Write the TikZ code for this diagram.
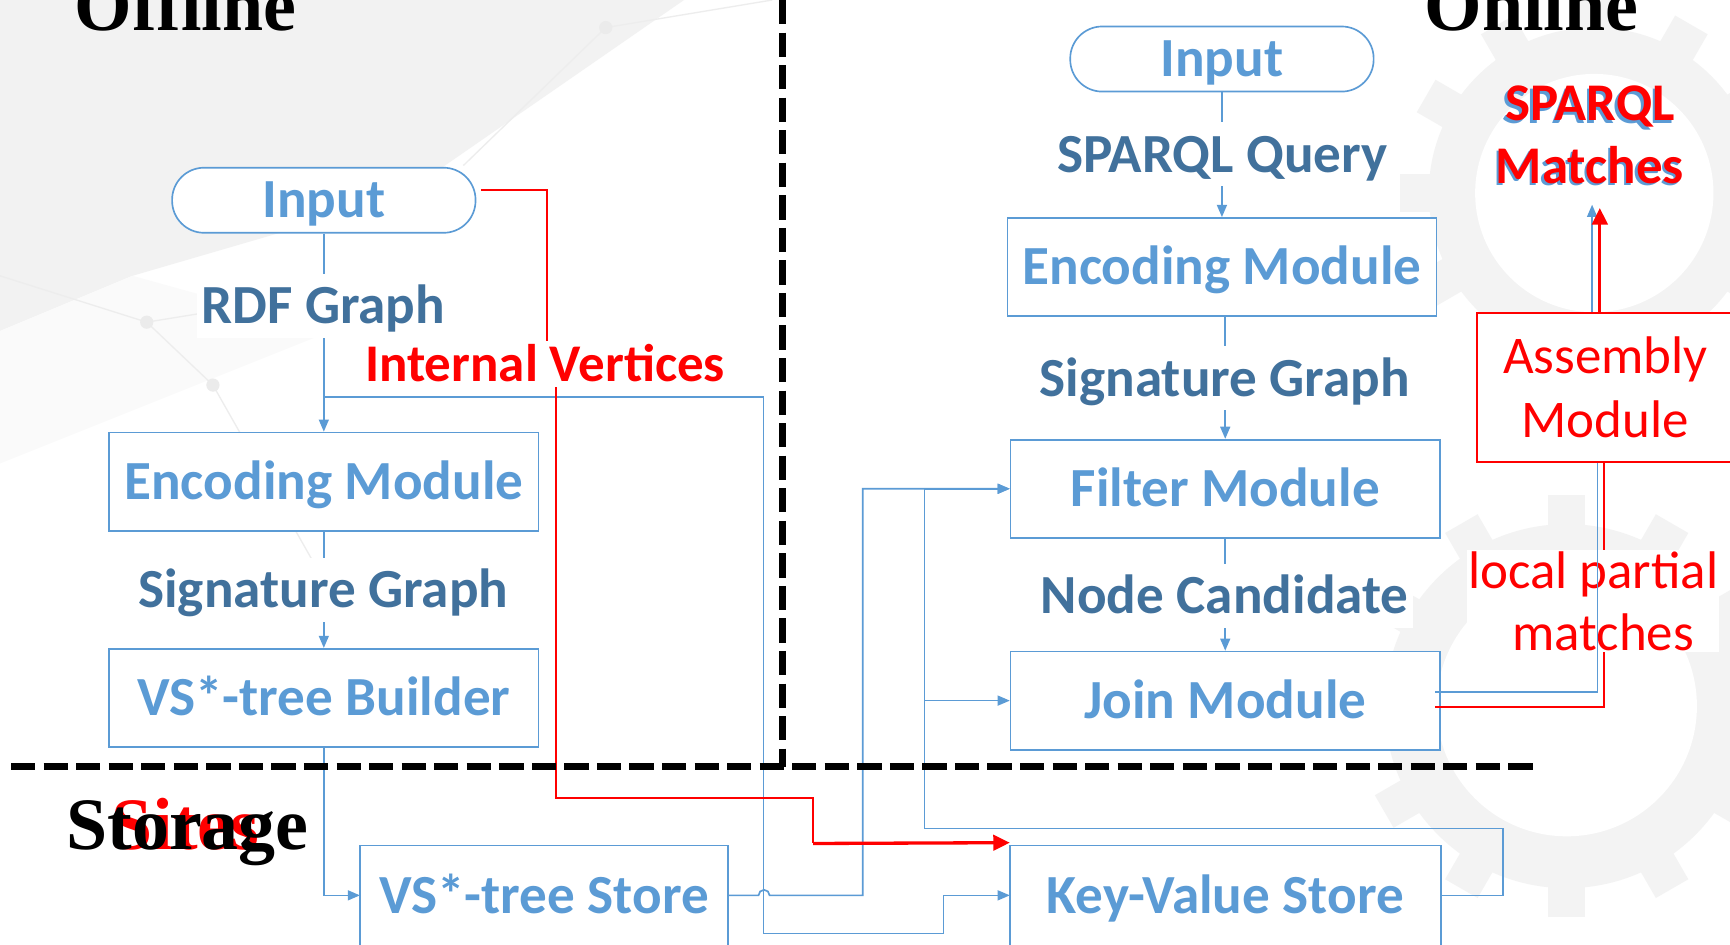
\documentclass[tikz,border=0pt]{standalone}
\usepackage{fontspec}
\newfontfamily\bodyfont{Carlito}
\newfontfamily\headfont{Liberation Serif}
\usetikzlibrary{arrows.meta,calc}

\definecolor{boxblue}{HTML}{5B9BD5}
\definecolor{labelblue}{HTML}{41719C}
\definecolor{hotred}{HTML}{FF0000}
\definecolor{wash}{HTML}{F2F2F2}
\definecolor{gearshade}{HTML}{F3F3F3}

\tikzset{
  module/.style={draw=boxblue, line width=1.5pt, fill=white,
    minimum width=389pt, minimum height=89pt, inner sep=0pt,
    text height=37pt, text depth=5pt,
    text=boxblue, font=\bodyfont\bfseries\fontsize{50}{60}\selectfont},
  terminal/.style={module, rounded corners=29pt,
    minimum width=275pt, minimum height=59pt},
  flowlabel/.style={fill=white, text=labelblue, inner xsep=4pt, inner ysep=8pt,
    text height=37pt, text depth=5pt,
    font=\bodyfont\bfseries\fontsize{50}{60}\selectfont},
  redlabel/.style={fill=white, text=hotred, inner sep=1pt, align=center,
    font=\bodyfont\fontsize{48}{57}\selectfont},
  pipe/.style={draw=boxblue, line width=1.5pt},
  link/.style={pipe, -{Triangle[length=11pt,width=9pt]}},
  redpipe/.style={draw=hotred, line width=1.5pt},
  redlink/.style={draw=hotred, line width=3pt, -{Triangle[length=15pt,width=14pt]}},
  divider/.style={draw=black, line width=6.5pt, dash pattern=on 22pt off 7.5pt},
  heading/.style={font=\headfont\bfseries\fontsize{67}{80}\selectfont,
    anchor=base, inner sep=0pt},
  netline/.style={draw=black!7, line width=1.2pt},
  netdot/.style={fill=black!8},
}

% faint toothed wheel: centre, outer ring radius, hole radius, teeth
\newcommand{\cogwheel}[4]{%
  \begin{scope}[shift={#1}]
    \fill[gearshade] (0,0) circle[radius=#2];
    \foreach \k in {1,...,#4}{
      \fill[gearshade, rotate=\k*360/#4] (-17,-#2-26) rectangle (17,-#2+4);
    }
    \fill[white] (0,0) circle[radius=#3];
  \end{scope}}

\begin{document}
\begin{tikzpicture}[x=1pt, y=-1pt]
\useasboundingbox (0,0) rectangle (1568,856);
\clip (0,0) rectangle (1568,856);
\fill[white] (0,0) rectangle (1568,856);

% ---- background texture ----
\fill[wash] (0,0) -- (620,0) -- (360,180) -- (120,250) -- (0,300) -- cycle;
\fill[black!2] (0,300) -- (120,250) -- (300,300) -- (0,420) -- cycle;
\draw[netline] (133,292) -- (193,349) -- (290,520);
\draw[netline] (0,250) -- (133,292) -- (330,260);
\draw[netline] (549,25) -- (700,0);
\draw[netline] (549,25) -- (420,150);
\fill[netdot] (133,292) circle[radius=6] (193,349) circle[radius=6] (549,25) circle[radius=6];
\cogwheel{(1445,175)}{150}{108}{12}
\cogwheel{(1420,640)}{165}{118}{12}

% ---- offline pipeline ----
\node[terminal] (in1) at (293.5,181.5) {Input};
\node[module] (enc1) at (293.5,436.5) {Encoding Module};
\node[module] (bld)  at (293.5,632.5) {VS*-tree Builder};

% ---- storage (boxes run past the lower edge) ----
\node[module, minimum width=332pt, draw=none] (vss) at (493,811.5) {VS*-tree Store};
\node[module, draw=none] (kv) at (1110.5,811.5) {Key-Value Store};
\fill[white] (vss.north west) rectangle ($(vss.south east)+(0,20)$);
\fill[white] (kv.north west) rectangle ($(kv.south east)+(0,20)$);
\node[module, minimum width=332pt, draw=none, fill=none] at (vss) {VS*-tree Store};
\node[module, draw=none, fill=none] at (kv) {Key-Value Store};
\draw[pipe] ($(vss.south west)+(0,20)$) -- (vss.north west) -- (vss.north east) -- ($(vss.south east)+(0,20)$);
\draw[pipe] ($(kv.south west)+(0,20)$) -- (kv.north west) -- (kv.north east) -- ($(kv.south east)+(0,20)$);

% ---- online pipeline ----
\node[terminal] (in2) at (1107.5,53.5) {Input};
\node[module] (enc2) at (1107.5,242) {Encoding Module};
\node[module] (flt)  at (1110.5,443) {Filter Module};
\node[module] (join) at (1110.5,635) {Join Module};
\node[draw=hotred, line width=2pt, fill=white, minimum width=232pt, minimum height=135pt,
      align=center, text=hotred, font=\bodyfont\fontsize{48}{58}\selectfont]
      (asm) at (1455,351) {Assembly\\Module};

% ---- vertical flow ----
\draw[link] (in1) -- (enc1);
\draw[link] (enc1) -- (bld);
\draw[link] (bld.south) |- (vss.west);
\draw[link] (in2) -- (enc2);
\draw[link] (enc2.south -| flt.north) -- (flt.north);
\draw[link] (flt) -- (join);

% ---- RDF graph feeding the key-value store ----
\coordinate (tap) at (in1.south |- 0,360);
\draw[link] (tap) -- (692,360) |- (855,846) |- (kv.west);

% ---- VS*-tree store feeding the filter ----
\draw[link] (vss.east) -- (687.5,811.5) arc[start angle=180, end angle=360, radius=5]
  -- (782,811.5) |- (flt.west);

% ---- key-value store feeding filter and join ----
\coordinate (bus) at (838,751);
\draw[link] (kv.east) -| (1362,751) -- (bus) |- (flt.west);
\draw[link] (bus |- join.west) -- (join.west);

% ---- internal vertices ----
\draw[redpipe] ($(in1.east)+(4,-9.5)$) -- (496,172) -- (496,330) -- (504,330)
  -- (504,723) -- (737,723) -- (737,764.5);
\draw[redlink] (737,764.5) -- ($(kv.north west)+(0,-2.5)$);
\node[redlabel, text height=35.5pt, text depth=4.8pt,
      font=\bodyfont\bfseries\fontsize{48}{57}\selectfont] (intv) at (494,330) {Internal Vertices};

% ---- partial matches up to the assembly module ----
\draw[redpipe] ($(join.east)+(-5,6)$) -| ($(asm.south)+(-1,0)$);
\node[redlabel] (lpm) at (1444,545) {local partial\\\hspace*{18pt}matches};
\draw[pipe] ($(join.east)+(-5,-8)$) -| ($(asm.south)+(-7,0)$);
\draw[link] ($(asm.north)+(-12,0)$) -- ++(0,-97);
\draw[redlink] ($(asm.north)+(-5,0)$) -- ++(0,-94);

% ---- edge labels ----
\node[flowlabel] (rdf)  at (293,277)  {RDF Graph};
\node[flowlabel] (sig1) at (293,535)  {Signature Graph};
\node[flowlabel] (qry)  at (1108,140) {SPARQL Query};
\node[flowlabel] (sig2) at (1110,343) {Signature Graph};
\node[flowlabel] (cand) at (1110,540) {Node Candidate};

% ---- result ----
\node[align=center, text=boxblue, inner sep=0pt, font=\bodyfont\bfseries\fontsize{48}{57}\selectfont]
  at (1439,124.5) {SPARQL\\Matches};
\node[align=center, text=hotred, inner sep=0pt, font=\bodyfont\bfseries\fontsize{48}{57}\selectfont]
  (spm) at (1441,122) {SPARQL\\Matches};

% ---- section dividers ----
\draw[divider] (709,0) -- (709,695);
\draw[divider] (10,695) -- (1395,695);

% ---- section headings ----
\node[heading] at (168,28) {Offline};
\node[heading] at (1388,28) {Online};
\node[heading, anchor=base west, text=hotred] at (101,770) {Sites};
\node[heading, anchor=base west] at (60,770) {Storage};
\end{tikzpicture}
\end{document}
